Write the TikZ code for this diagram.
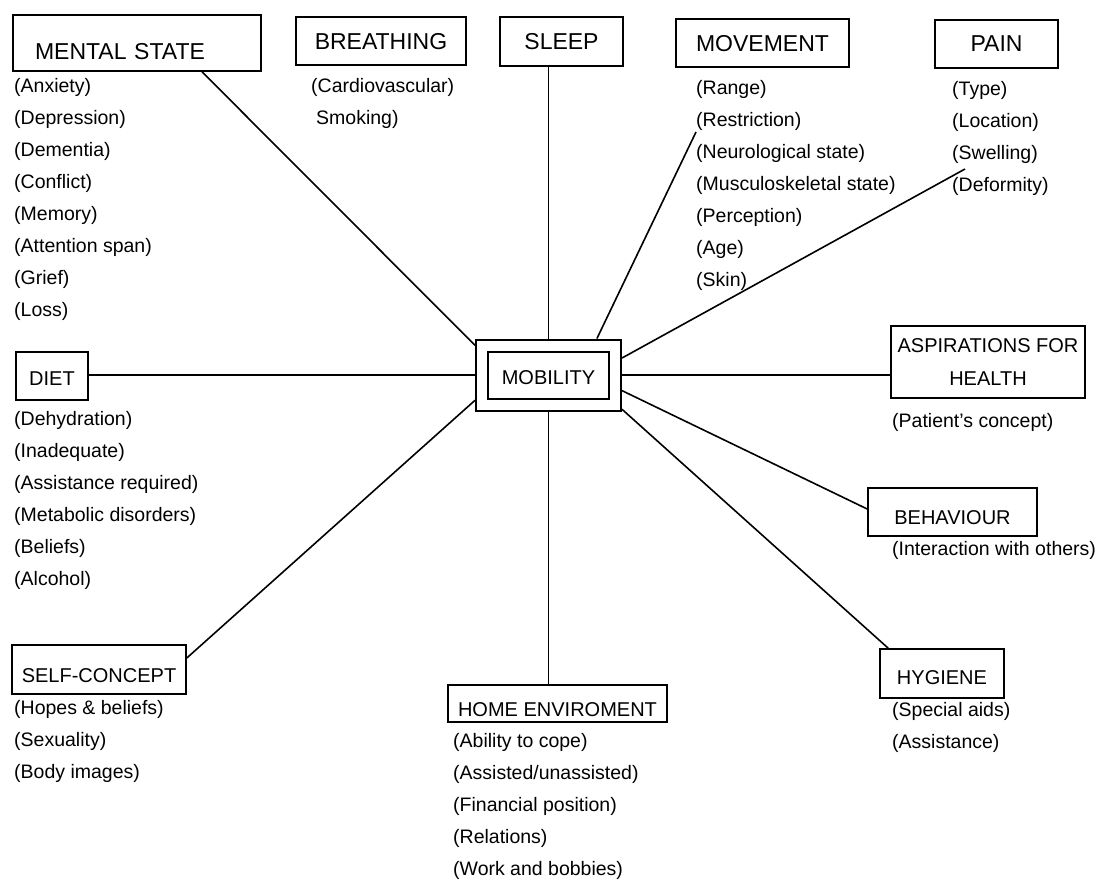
\documentclass[tikz,border=0pt]{standalone}
\usepackage{fontspec}
\setmainfont{Liberation Sans}
\usetikzlibrary{positioning}

\tikzset{
  hd/.style={draw, line width=1.6pt, inner sep=0pt, text depth=0pt, align=center, font=\fontsize{20}{33}\selectfont},
  tophd/.style={hd, font=\fontsize{23}{28}\selectfont},
  items/.style={anchor=north west, inner sep=0pt, align=left, font=\fontsize{19.5}{32}\selectfont},
  link/.style={line width=1.6pt}
}

\begin{document}
\begin{tikzpicture}[x=1pt,y=-1pt]
\useasboundingbox (0,0) rectangle (1096,880);

\node[hd, draw, double, line width=2pt, double distance=10pt, outer sep=7pt, minimum width=133pt, minimum height=59pt, text height=18pt] (mob) at (548.5,375) {MOBILITY};

\node[tophd, minimum width=248pt, minimum height=56pt, text width=204pt, align=left, text height=34pt] (mental) at (137,43) {MENTAL STATE};
\node[tophd, minimum width=170pt, minimum height=48.5pt] (breath) at (381,41) {BREATHING};
\node[tophd, minimum width=123pt, minimum height=49pt] (sleep) at (561.5,41.5) {SLEEP};
\node[tophd, minimum width=173pt, minimum height=48pt] (move) at (762.5,43) {MOVEMENT};
\node[tophd, minimum width=123pt, minimum height=48pt] (pain) at (996.5,44) {PAIN};
\node[hd, minimum width=72pt, minimum height=48pt, text height=18.3pt] (diet) at (52,376) {DIET};
\node[hd, minimum width=194pt, minimum height=72pt] (asp) at (988,362) {ASPIRATIONS FOR\\HEALTH};
\node[hd, minimum width=169pt, minimum height=48pt, text height=24.3pt] (beh) at (952.5,512) {BEHAVIOUR};
\node[hd, minimum width=174pt, minimum height=49pt, text height=25.3pt] (self) at (99,669.5) {SELF-CONCEPT};
\node[hd, minimum width=219pt, minimum height=37pt, text height=25.3pt] (home) at (557.5,703.5) {HOME ENVIROMENT};
\node[hd, minimum width=124pt, minimum height=49pt, text height=21.3pt] (hyg) at (942,673.5) {HYGIENE};

\node[items] (mental-l) at (14,78) {(Anxiety)\\(Depression)\\(Dementia)\\(Conflict)\\(Memory)\\(Attention span)\\(Grief)\\(Loss)};
\node[items] (breath-l) at (311,78) {(Cardiovascular)\\\hspace*{5pt}Smoking)};
\node[items] (move-l) at (696,80) {(Range)\\(Restriction)\\(Neurological state)\\(Musculoskeletal state)\\(Perception)\\(Age)\\(Skin)};
\node[items] (pain-l) at (952,81) {(Type)\\(Location)\\(Swelling)\\(Deformity)};
\node[items] (diet-l) at (14,411) {(Dehydration)\\(Inadequate)\\(Assistance required)\\(Metabolic disorders)\\(Beliefs)\\(Alcohol)};
\node[items] (asp-l) at (892,413) {(Patient's concept)};
\node[items] (beh-l) at (892,541) {(Interaction with others)};
\node[items] (self-l) at (14,700) {(Hopes \& beliefs)\\(Sexuality)\\(Body images)};
\node[items] (home-l) at (453,733) {(Ability to cope)\\(Assisted/unassisted)\\(Financial position)\\(Relations)\\(Work and bobbies)};
\node[items] (hyg-l) at (892,702) {(Special aids)\\(Assistance)};

\coordinate (mvend) at (696,132);
\coordinate (pnend) at (965,169);

\path[link]
([xshift=65pt]mental.south) edge (mob.158)
(mob.north |- sleep.south) edge (mob.north)
(mvend) edge (mob.37)
(pnend) edge (mob.13)
(mob.east) edge (mob.east -| asp.west)
(mob.348) edge ([yshift=3pt]beh.west)
(mob.335) edge ([xshift=9pt]hyg.north west)
(mob.south) edge (mob.south |- home.north)
(mob.199) edge ([yshift=11.5pt]self.east)
(mob.west -| diet.east) edge (mob.west);
\end{tikzpicture}
\end{document}
